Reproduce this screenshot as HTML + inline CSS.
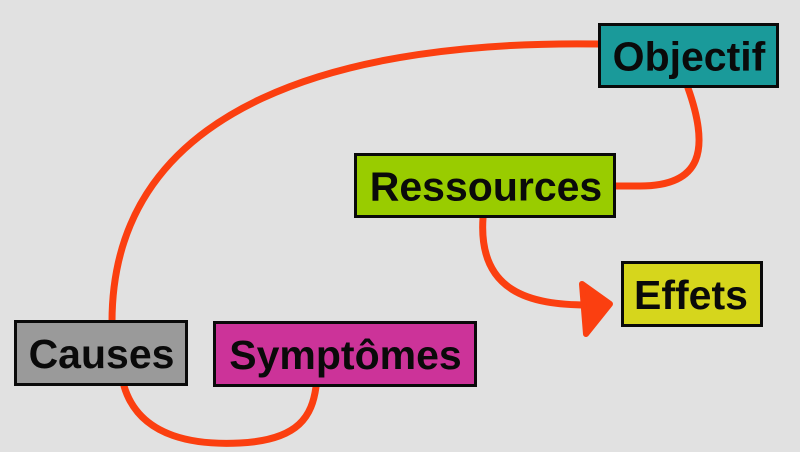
<!DOCTYPE html>
<html>
<head>
<meta charset="utf-8">
<style>
  html,body{margin:0;padding:0;background:#e1e1e1;}
  svg{display:block;}
  text{font-family:"Liberation Sans",Arial,sans-serif;font-weight:bold;font-size:41px;fill:#0a0a0a;}
</style>
</head>
<body>
<svg width="800" height="452" viewBox="0 0 800 452" xmlns="http://www.w3.org/2000/svg">
  <rect x="0" y="0" width="800" height="452" fill="#e1e1e1"/>
  <g fill="none" stroke="#fb3f10" stroke-width="7" stroke-linecap="round">
    <!-- Causes -> Objectif -->
    <path d="M112,322 C112,100 350,40 600,44"/>
    <!-- Objectif -> Ressources -->
    <path d="M688,88 C710,150 702,186 640,186 L616,186"/>
    <!-- Ressources -> Effets -->
    <path d="M483,218 C478,292 530,305 588,305"/>
    <!-- Causes -> Symptomes -->
    <path d="M124,386 C140,440 200,445 240,443 C300,440 312,415 316,387"/>
  </g>
  <path d="M582,284 L610,304 L586,334 Z" fill="#fb3f10" stroke="#fb3f10" stroke-width="6" stroke-linejoin="round"/>

  <!-- Objectif -->
  <rect x="599.5" y="24.5" width="178" height="62" fill="#1a9a9a" stroke="#0a0a0a" stroke-width="3"/>
  <text x="689" y="70.5" text-anchor="middle">Objectif</text>

  <!-- Ressources -->
  <rect x="355.5" y="154.5" width="259" height="62" fill="#99cc00" stroke="#0a0a0a" stroke-width="3"/>
  <text x="486" y="200.5" text-anchor="middle">Ressources</text>

  <!-- Effets -->
  <rect x="622.5" y="262.5" width="139" height="63" fill="#d6d61c" stroke="#0a0a0a" stroke-width="3"/>
  <text x="691" y="309" text-anchor="middle">Effets</text>

  <!-- Causes -->
  <rect x="15.5" y="321.5" width="171" height="63" fill="#9a9a9a" stroke="#0a0a0a" stroke-width="3"/>
  <text x="101.5" y="368" text-anchor="middle">Causes</text>

  <!-- Symptomes -->
  <rect x="214.5" y="322.5" width="261" height="63" fill="#cc3399" stroke="#0a0a0a" stroke-width="3"/>
  <text x="345.5" y="369" text-anchor="middle">Symptômes</text>
</svg>
</body>
</html>
